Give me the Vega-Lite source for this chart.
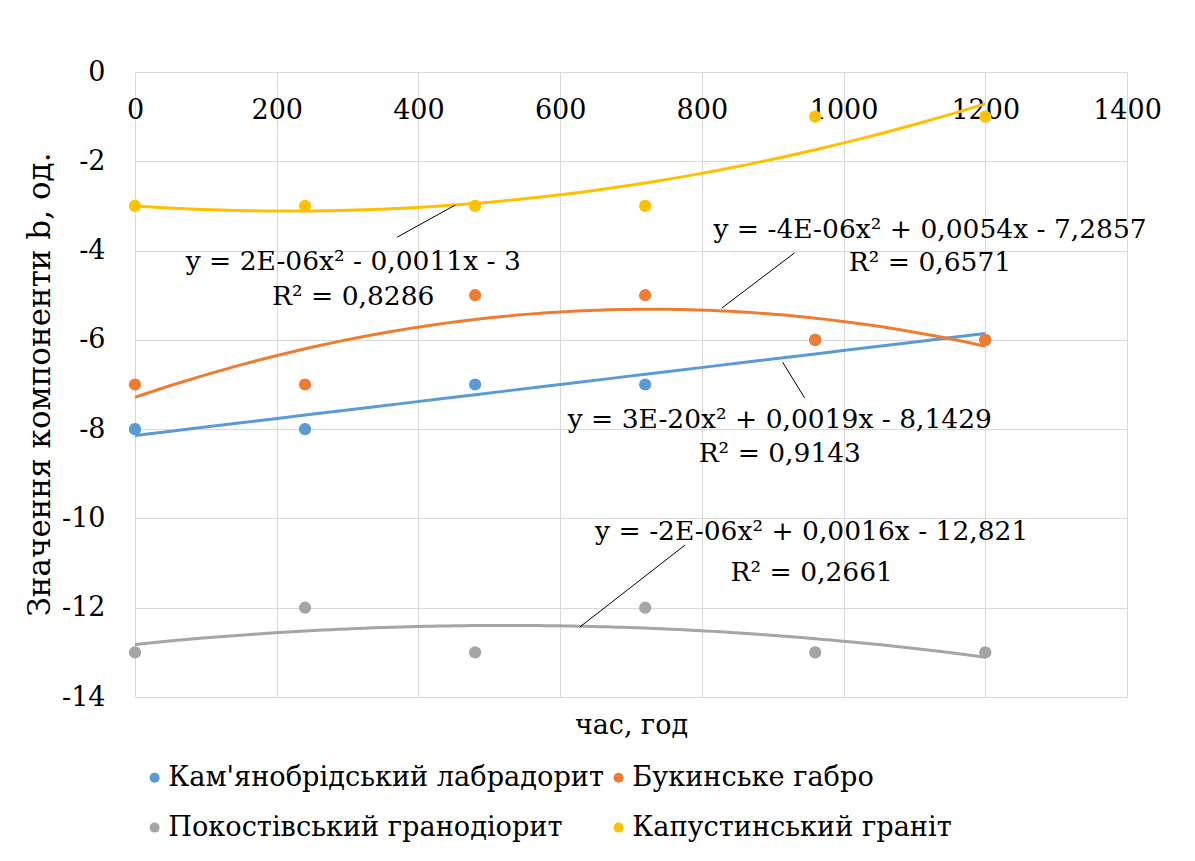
{
  "$schema": "https://vega.github.io/schema/vega-lite/v6.json",
  "width": 992,
  "height": 625,
  "autosize": "none",
  "padding": {"left": 135, "top": 72, "right": 68, "bottom": 164},
  "background": "white",
  "config": {
    "font": "DejaVu Serif",
    "view": {"stroke": null},
    "axis": {
      "labelFont": "DejaVu Serif",
      "titleFont": "DejaVu Serif",
      "labelColor": "#000000",
      "titleColor": "#000000",
      "labelFontSize": 27,
      "titleFontSize": 27,
      "titleFontWeight": "normal",
      "gridColor": "#d9d9d9",
      "gridWidth": 1,
      "ticks": false,
      "tickSize": 0,
      "domain": false
    },
    "legend": {
      "labelFont": "DejaVu Serif",
      "labelFontSize": 27.2,
      "labelColor": "#000000",
      "labelLimit": 700,
      "symbolType": "circle",
      "symbolSize": 100,
      "symbolStrokeWidth": 0
    }
  },
  "datasets": {
    "pts": [
      {"series": "Кам'янобрідський лабрадорит", "x": 0, "y": -8},
      {"series": "Кам'янобрідський лабрадорит", "x": 240, "y": -8},
      {"series": "Кам'янобрідський лабрадорит", "x": 480, "y": -7},
      {"series": "Кам'янобрідський лабрадорит", "x": 720, "y": -7},
      {"series": "Кам'янобрідський лабрадорит", "x": 960, "y": -6},
      {"series": "Кам'янобрідський лабрадорит", "x": 1200, "y": -6},
      {"series": "Букинське габро", "x": 0, "y": -7},
      {"series": "Букинське габро", "x": 240, "y": -7},
      {"series": "Букинське габро", "x": 480, "y": -5},
      {"series": "Букинське габро", "x": 720, "y": -5},
      {"series": "Букинське габро", "x": 960, "y": -6},
      {"series": "Букинське габро", "x": 1200, "y": -6},
      {"series": "Покостівський гранодіорит", "x": 0, "y": -13},
      {"series": "Покостівський гранодіорит", "x": 240, "y": -12},
      {"series": "Покостівський гранодіорит", "x": 480, "y": -13},
      {"series": "Покостівський гранодіорит", "x": 720, "y": -12},
      {"series": "Покостівський гранодіорит", "x": 960, "y": -13},
      {"series": "Покостівський гранодіорит", "x": 1200, "y": -13},
      {"series": "Капустинський граніт", "x": 0, "y": -3},
      {"series": "Капустинський граніт", "x": 240, "y": -3},
      {"series": "Капустинський граніт", "x": 480, "y": -3},
      {"series": "Капустинський граніт", "x": 720, "y": -3},
      {"series": "Капустинський граніт", "x": 960, "y": -1},
      {"series": "Капустинський граніт", "x": 1200, "y": -1}
    ],
    "labels": [
      {"x": 308, "y": -4.25, "text": "y = 2E-06x² - 0,0011x - 3"},
      {"x": 308, "y": -5.04, "text": "R² = 0,8286"},
      {"x": 1122, "y": -3.54, "text": "y = -4E-06x² + 0,0054x - 7,2857"},
      {"x": 1122, "y": -4.28, "text": "R² = 0,6571"},
      {"x": 910, "y": -7.8, "text": "y = 3E-20x² + 0,0019x - 8,1429"},
      {"x": 910, "y": -8.55, "text": "R² = 0,9143"},
      {"x": 955, "y": -10.3, "text": "y = -2E-06x² + 0,0016x - 12,821"},
      {"x": 955, "y": -11.22, "text": "R² = 0,2661"}
    ],
    "leaders": [
      {"x": 370, "y": -3.7, "x2": 452, "y2": -2.98},
      {"x": 931, "y": -4.05, "x2": 828, "y2": -5.29},
      {"x": 914, "y": -6.5, "x2": 945, "y2": -7.3},
      {"x": 776, "y": -10.6, "x2": 628, "y2": -12.43}
    ]
  },
  "layer": [
    {
      "data": {"name": "pts"},
      "transform": [
        {"regression": "y", "on": "x", "groupby": ["series"], "method": "poly", "order": 2, "extent": [0, 1200]}
      ],
      "mark": {"type": "line", "strokeWidth": 3},
      "encoding": {
        "x": {
          "field": "x", "type": "quantitative",
          "scale": {"domain": [0, 1400], "nice": false},
          "axis": {
            "orient": "top", "values": [0, 200, 400, 600, 800, 1000, 1200, 1400],
            "grid": true, "title": null, "labelPadding": -38, "labelBaseline": "middle",
            "labelExpr": "toString(datum.value)",
            "labelOverlap": false, "labelBound": false, "labelFlush": false
          }
        },
        "y": {
          "field": "y", "type": "quantitative",
          "scale": {"domain": [-14, 0], "nice": false},
          "axis": {
            "values": [-14, -12, -10, -8, -6, -4, -2, 0], "grid": true,
            "labelExpr": "toString(datum.value)", "labelPadding": 30,
            "title": "Значення компоненти b, од.", "titleFontSize": 31, "titleX": -95, "titleY": 312,
            "titleAlign": "center", "titleBaseline": "middle", "titleAngle": -90
          }
        },
        "color": {
          "field": "series", "type": "nominal",
          "sort": null,
          "scale": {
            "domain": ["Кам'янобрідський лабрадорит", "Букинське габро", "Покостівський гранодіорит", "Капустинський граніт"],
            "range": ["#5B9BD5", "#ED7D31", "#A5A5A5", "#FFC000"]
          },
          "legend": {
            "title": null, "orient": "none", "legendX": 6, "legendY": 692,
            "columns": 2, "direction": "horizontal", "rowPadding": 22,
            "columnPadding": 1, "labelOffset": 0, "symbolType": "circle"
          }
        }
      }
    },
    {
      "data": {"name": "pts"},
      "mark": {"type": "point", "filled": true, "size": 150, "opacity": 1},
      "encoding": {
        "x": {
          "field": "x", "type": "quantitative",
          "axis": {
            "orient": "bottom", "labels": false, "grid": false,
            "title": "час, год", "titleY": 28, "titleBaseline": "middle"
          }
        },
        "y": {"field": "y", "type": "quantitative"},
        "color": {"field": "series", "type": "nominal", "sort": null}
      }
    },
    {
      "data": {"name": "leaders"},
      "mark": {"type": "rule", "color": "#000000", "strokeWidth": 1},
      "encoding": {
        "x": {"field": "x", "type": "quantitative", "axis": null},
        "y": {"field": "y", "type": "quantitative"},
        "x2": {"field": "x2"},
        "y2": {"field": "y2"}
      }
    },
    {
      "data": {"name": "labels"},
      "mark": {"type": "text", "font": "DejaVu Serif", "fontSize": 26.5, "color": "#000000", "align": "center", "baseline": "middle"},
      "encoding": {
        "x": {"field": "x", "type": "quantitative", "axis": null},
        "y": {"field": "y", "type": "quantitative"},
        "text": {"field": "text"}
      }
    }
  ],
  "resolve": {"axis": {"x": "independent"}}
}
